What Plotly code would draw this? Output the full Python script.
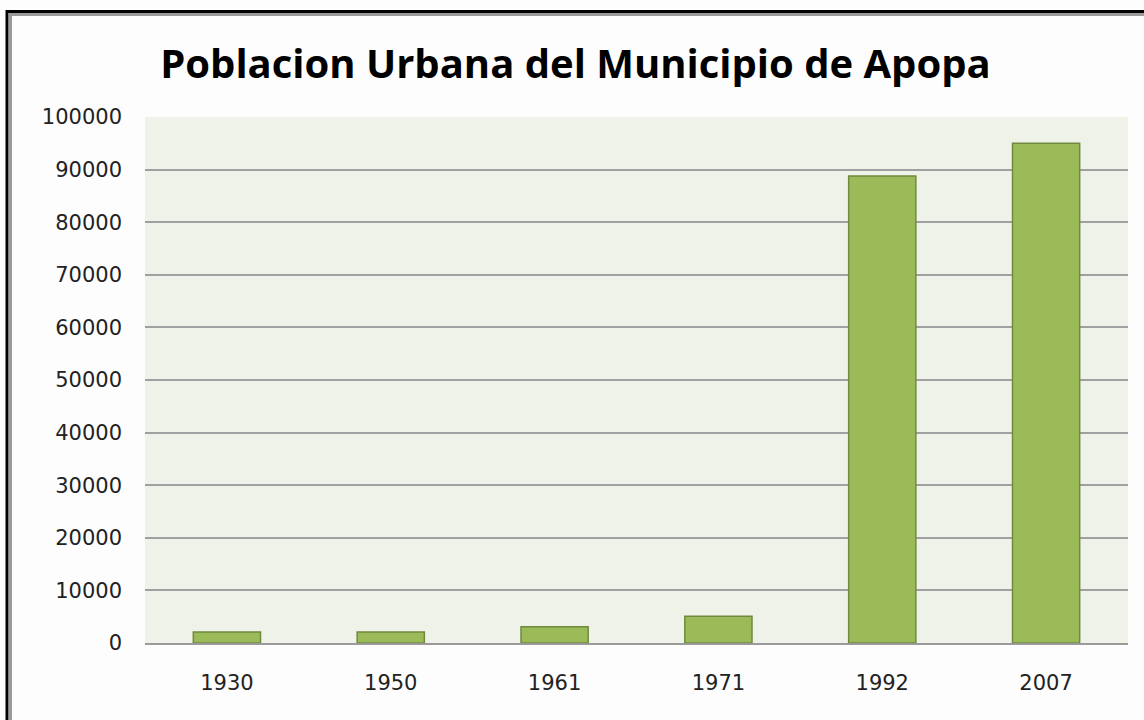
import plotly.graph_objects as go

years = ["1930", "1950", "1961", "1971", "1992", "2007"]
poblacion = [2100, 2100, 3100, 5100, 88800, 95000]
y_ticks = [0, 10000, 20000, 30000, 40000, 50000, 60000, 70000, 80000, 90000, 100000]
title_text = "Poblacion Urbana del Municipio de Apopa"

fig = go.Figure(
    go.Bar(
        x=years,
        y=poblacion,
        marker=dict(color="#9bbb59", line=dict(color="#71893f", width=1.5)),
    )
)

L, R, T, B = 145, 16, 117, 77
W, H = 1144, 720
pw, ph = W - L - R, H - T - B

def px_x(x):
    return (x - L) / pw

def px_y(y):
    return (H - B - y) / ph

fig.update_layout(
    width=W,
    height=H,
    margin=dict(l=L, r=R, t=T, b=B),
    paper_bgcolor="#fdfdfd",
    plot_bgcolor="#eff2e9",
    bargap=0.59,
    showlegend=False,
    title=dict(
        text=title_text,
        x=0.503,
        xref="container",
        xanchor="center",
        y=1 - 64 / H,
        yanchor="middle",
        font=dict(family="Open Sans", size=40, color="#000000", weight="bold"),
    ),
    font=dict(family="DejaVu Sans", size=21, color="#222222"),
    shapes=[
        dict(type="rect", xref="paper", yref="paper",
             x0=px_x(10.5), x1=px_x(1160), y0=px_y(14.5), y1=px_y(740),
             line=dict(color="#9a9a9a", width=3), layer="below"),
        dict(type="rect", xref="paper", yref="paper",
             x0=px_x(7), x1=px_x(1160), y0=px_y(11.5), y1=px_y(740),
             line=dict(color="#000000", width=3), layer="below"),
    ],
)

fig.update_xaxes(
    type="category",
    showline=True,
    linecolor="#9a9a9a",
    linewidth=2,
    ticks="",
    ticklabelstandoff=20,
    showgrid=False,
)
fig.update_yaxes(
    range=[0, 100000],
    tickvals=y_ticks,
    ticktext=[str(v) for v in y_ticks],
    showgrid=True,
    gridcolor="#a0a0a0",
    gridwidth=2,
    zeroline=False,
    showline=False,
    ticks="",
    ticklabelstandoff=22,
)

fig.write_html(
    "out.html",
    config={"displayModeBar": False},
    post_script="document.body.style.margin='0';document.body.style.padding='0';",
)
